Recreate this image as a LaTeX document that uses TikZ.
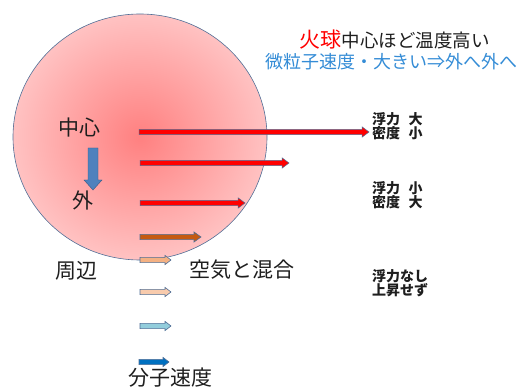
\documentclass[tikz,border=0pt]{standalone}
\usepackage{fontspec}
\newfontfamily\jp{Noto Sans CJK JP}
\definecolor{edgeblue}{RGB}{80,110,150}
\definecolor{arrred}{RGB}{255,0,0}
\definecolor{arrorange}{RGB}{197,90,17}
\definecolor{arrlorange}{RGB}{244,177,131}
\definecolor{arrpeach}{RGB}{248,203,173}
\definecolor{arrlblue}{RGB}{146,205,220}
\definecolor{arrdblue}{RGB}{0,112,192}
\definecolor{downblue}{RGB}{79,129,189}
\definecolor{titleblue}{RGB}{52,140,214}
\definecolor{txt}{RGB}{30,30,30}
\definecolor{ballin}{RGB}{255,128,128}
\definecolor{ballout}{RGB}{255,194,194}
\newcommand\blk[7]{%
  \filldraw[#7] (#1,{#3-#4}) -- ({#2-#6},{#3-#4}) -- ({#2-#6},{#3-#5}) -- (#2,#3) -- ({#2-#6},{#3+#5}) -- ({#2-#6},{#3+#4}) -- (#1,{#3+#4}) -- cycle;}
\tikzset{
  lbl/.style={font=\jp\fontsize{21}{23}\selectfont, text=txt, inner sep=0pt},
  side/.style={font=\jp\bfseries\fontsize{14}{14.5}\selectfont, text=txt, inner sep=0pt, anchor=west, align=left},
  redarr/.style={fill=arrred, draw=edgeblue, line width=0.5pt},
  smallarr/.style={draw=edgeblue, line width=0.6pt}
}
\begin{document}
\begin{tikzpicture}[x=1pt,y=-1pt]
\useasboundingbox (0,0) rectangle (520,387);
% ball
\shade[inner color=ballin, outer color=ballout] (140,137) ellipse [x radius=127pt, y radius=123pt];
\draw[edgeblue, line width=0.6pt] (140,137) ellipse [x radius=127pt, y radius=123pt];
% velocity arrows
\blk{139}{369}{132}{2.6}{5.2}{7}{redarr}
\blk{140}{289}{163}{2.6}{5.2}{7}{redarr}
\blk{140}{245}{203}{2.6}{5.2}{7}{redarr}
\blk{140}{201}{237}{2.6}{5}{7}{fill=arrorange, smallarr}
\blk{140}{171}{260}{2.6}{4.6}{6}{fill=arrlorange, smallarr}
\blk{140}{171}{292}{2.6}{4.6}{6}{fill=arrpeach, smallarr}
\blk{140}{171}{326}{2.6}{4.6}{6}{fill=arrlblue, smallarr}
\blk{139}{169}{362}{2.6}{4.6}{6}{fill=arrdblue, smallarr}
% down arrow center -> outside
\filldraw[fill=downblue, draw=downblue!70!black, line width=0.4pt]
  (88,148) -- (98,148) -- (98,180) -- (102,180) -- (93,190) -- (84,180) -- (88,180) -- cycle;
% labels
\node[lbl] (center) at (79,128) {中心};
\node[lbl] (outer) at (83,200) {外};
\node[lbl] (edge) at (77,271) {周辺};
\node[lbl] (mix) at (242,270) {空気と混合};
\node[lbl] (mol) at (170,378) {分子速度};
% title
\node[inner sep=0pt, anchor=east, text=txt, font=\jp\fontsize{18.5}{20}\selectfont] (t1) at (490,40)
  {{\color{arrred}\fontsize{21}{22}\selectfont 火球}中心ほど温度高い};
\node[inner sep=0pt, anchor=east, text=titleblue, font=\jp\fontsize{18}{20}\selectfont] (t2) at (518,62)
  {微粒子速度・大きい⇒外へ外へ};
% side labels
\node[side] (s1) at (372,126) {浮力\hspace{0.6em}大\\密度\hspace{0.6em}小};
\node[side] (s2) at (372,195) {浮力\hspace{0.6em}小\\密度\hspace{0.6em}大};
\node[side] (s3) at (372,283) {浮力なし\\上昇せず};
\end{tikzpicture}
\end{document}
